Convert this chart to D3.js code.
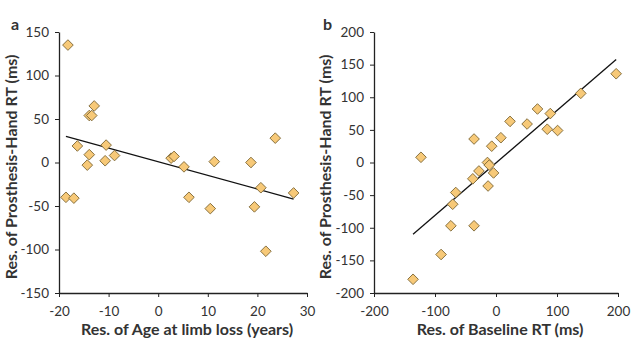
<!DOCTYPE html>
<html>
<head>
<meta charset="utf-8">
<script src="https://cdn.jsdelivr.net/npm/d3@7"></script>
<style>
  body { margin: 0; background: #fff; }
  text { font-family: Lato, "Open Sans", sans-serif; fill: #333; }
  .domain, .tick line { stroke: #222; }
</style>
</head>
<body>
<script>
// panel a: residual age at limb loss vs residual prosthesis-hand RT
const ageRes = [-18.2, -16.3, -14.3, -13.9, -13.9, -13.4, -12.9, -10.5, -10.7, -8.8, 2.6, 3.2, 5.2, 11.3, 18.7, 23.6,
                -18.6, -17.0, 6.2, 10.5, 19.4, 20.7, 21.7, 27.3]
const rtResA = [135, 19, -3, 9, 54, 54, 65, 20, 2, 8, 5, 7, -5, 1, 0, 28,
                -40, -41, -40, -53, -51, -29, -102, -35]
const fitA = [[-18.6, 30], [27.3, -42]]

// panel b: residual baseline RT vs residual prosthesis-hand RT
const baseRes = [-123, -36, -7, 8, 23, 51, 68, 84, 89, 101, 139, 197,
                 -14, -11, -4, -28, -38, -13, -66, -71, -74, -36, -90, -136]
const rtResB = [8, 36, 25, 38, 63, 59, 82, 51, 75, 49, 106, 136,
                0, -4, -16, -13, -25, -36, -46, -64, -97, -97, -141, -179]
const fitB = [[-136, -110], [197, 158]]

const xTicksA = [-20, -10, 0, 10, 20, 30]
const yTicksA = [-150, -100, -50, 0, 50, 100, 150]
const xTicksB = [-200, -100, 0, 100, 200]
const yTicksB = [-200, -150, -100, -50, 0, 50, 100, 150, 200]

const svg = d3.select('body').append('svg').attr('width', 640).attr('height', 345)

const diamond = d3.symbol().type(d3.symbolDiamond2).size(72)
const plain = d => String(d)   // hyphen minus like the original

function panel(opts) {
    const x = d3.scaleLinear().domain(opts.xDomain).range(opts.xRange)
    const y = d3.scaleLinear().domain(opts.yDomain).range([293, 32])
    const g = svg.append('g')

    g.append('g')
        .attr('transform', 'translate(0,' + y(opts.yDomain[0]) + ')')
        .call(d3.axisBottom(x).tickValues(opts.xTicks).tickFormat(plain).tickSize(4).tickSizeOuter(0).tickPadding(9))
        .call(a => a.selectAll('text').attr('font-size', 13.5))
    g.append('g')
        .attr('transform', 'translate(' + x(opts.xDomain[0]) + ',0)')
        .call(d3.axisLeft(y).tickValues(opts.yTicks).tickFormat(plain).tickSize(4).tickSizeOuter(0).tickPadding(6))
        .call(a => a.selectAll('text').attr('font-size', 13.5))
    g.selectAll('.domain').attr('stroke-width', 1.3)

    g.append('line')
        .attr('x1', x(opts.fit[0][0])).attr('y1', y(opts.fit[0][1]))
        .attr('x2', x(opts.fit[1][0])).attr('y2', y(opts.fit[1][1]))
        .attr('stroke', '#111').attr('stroke-width', 1.3)

    g.selectAll('path.pt')
        .data(opts.xs)
        .enter().append('path')
            .attr('class', 'pt')
            .attr('d', diamond)
            .attr('transform', (d, i) => 'translate(' + x(d) + ',' + y(opts.ys[i]) + ')')
            .attr('fill', '#f7c978')
            .attr('stroke', '#7a6432')
            .attr('stroke-width', 0.9)

    g.append('text')
        .attr('x', (opts.xRange[0] + opts.xRange[1]) / 2 + 4).attr('y', 335)
        .attr('text-anchor', 'middle').attr('font-size', 16).attr('font-weight', 'bold')
        .text(opts.xTitle)
    g.append('text')
        .attr('transform', 'translate(' + opts.yTitleX + ',167) rotate(-90)')
        .attr('text-anchor', 'middle').attr('font-size', 16).attr('font-weight', 'bold')
        .text('Res. of Prosthesis-Hand RT (ms)')
    g.append('text')
        .attr('x', opts.labelX).attr('y', 30)
        .attr('font-size', 16).attr('font-weight', 'bold').attr('fill', '#111')
        .text(opts.label)
}

panel({
    xs: ageRes, ys: rtResA, fit: fitA,
    xDomain: [-20, 30], xRange: [59, 307], yDomain: [-150, 150],
    xTicks: xTicksA, yTicks: yTicksA,
    xTitle: 'Res. of Age at limb loss (years)', yTitleX: 17, label: 'a', labelX: 11
})
panel({
    xs: baseRes, ys: rtResB, fit: fitB,
    xDomain: [-200, 200], xRange: [374, 618], yDomain: [-200, 200],
    xTicks: xTicksB, yTicks: yTicksB,
    xTitle: 'Res. of Baseline RT (ms)', yTitleX: 331, label: 'b', labelX: 323
})
</script>
</body>
</html>
